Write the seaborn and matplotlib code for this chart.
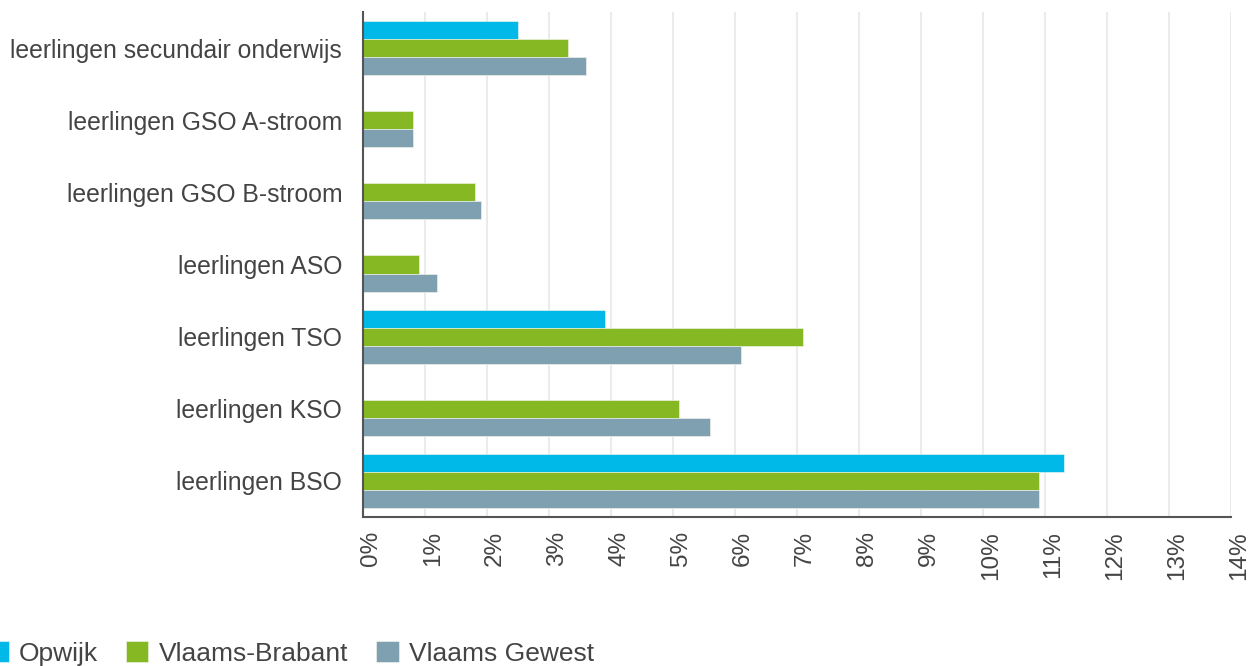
import numpy as np
import pandas as pd
import matplotlib
matplotlib.use("Agg")
import matplotlib.pyplot as plt
import matplotlib.transforms as mtransforms
import seaborn as sb
from matplotlib.ticker import FuncFormatter

# Data (percent)
categories = ["leerlingen secundair onderwijs", "leerlingen GSO A-stroom", "leerlingen GSO B-stroom",
              "leerlingen ASO", "leerlingen TSO", "leerlingen KSO", "leerlingen BSO"]
series = ["Opwijk", "Vlaams-Brabant", "Vlaams Gewest"]
opwijk = [2.5, np.nan, np.nan, np.nan, 3.9, np.nan, 11.3]
vlaams_brabant = [3.3, 0.8, 1.8, 0.9, 7.1, 5.1, 10.9]
vlaams_gewest = [3.6, 0.8, 1.9, 1.2, 6.1, 5.6, 10.9]
colors = ["#00B9E8", "#86B823", "#7FA0B0"]

df = pd.DataFrame({"categorie": categories, "Opwijk": opwijk,
                   "Vlaams-Brabant": vlaams_brabant, "Vlaams Gewest": vlaams_gewest})
long_df = df.melt(id_vars="categorie", var_name="gebied", value_name="pct")

sb.set_style("white")
plt.rcParams["font.family"] = ["Liberation Sans", "DejaVu Sans"]

fig = plt.figure(figsize=(12.53, 6.66), dpi=100)
ax = fig.add_axes([0.2897, 0.2237, 0.6928, 0.7583])

sb.barplot(data=long_df, y="categorie", x="pct", hue="gebied", hue_order=series,
           order=categories, palette=colors, width=0.75, orient="h",
           edgecolor="#f4f8f0", linewidth=0.4, saturation=1, ax=ax, legend=True)

ax.set_xlim(0, 14)
ax.set_ylim(6.5, -0.5)
ax.set_xticks(range(0, 15))
ax.xaxis.set_major_formatter(FuncFormatter(lambda v, p: f"{int(v)}%"))
ax.grid(axis="x", color="#ebebeb", linewidth=1.5)
ax.set_axisbelow(True)
ax.set_xlabel("")
ax.set_ylabel("")

for side in ["top", "right"]:
    ax.spines[side].set_visible(False)
for side in ["left", "bottom"]:
    ax.spines[side].set_color("#555555")
    ax.spines[side].set_linewidth(1.5)

ax.tick_params(axis="x", labelrotation=90, labelsize=17.5, colors="#444444", length=0, pad=10)
ax.tick_params(axis="y", labelsize=17.8, colors="#444444", length=0, pad=15)

# rotated x labels sit a bit right of their gridline in the reference
shift = mtransforms.ScaledTranslation(8 / 100, 0, fig.dpi_scale_trans)
for lbl in ax.get_xticklabels():
    lbl.set_transform(lbl.get_transform() + shift)

handles, labels = ax.get_legend_handles_labels()
ax.get_legend().remove()
fig.legend(handles, labels, loc="lower left", bbox_to_anchor=(-0.011, 0.0),
           ncol=3, frameon=False, fontsize=19, handlelength=0.85, handleheight=0.85,
           handletextpad=0.4, columnspacing=1.05, borderpad=0, borderaxespad=0,
           labelcolor="#444444")

fig.savefig("out.png", dpi=100)
